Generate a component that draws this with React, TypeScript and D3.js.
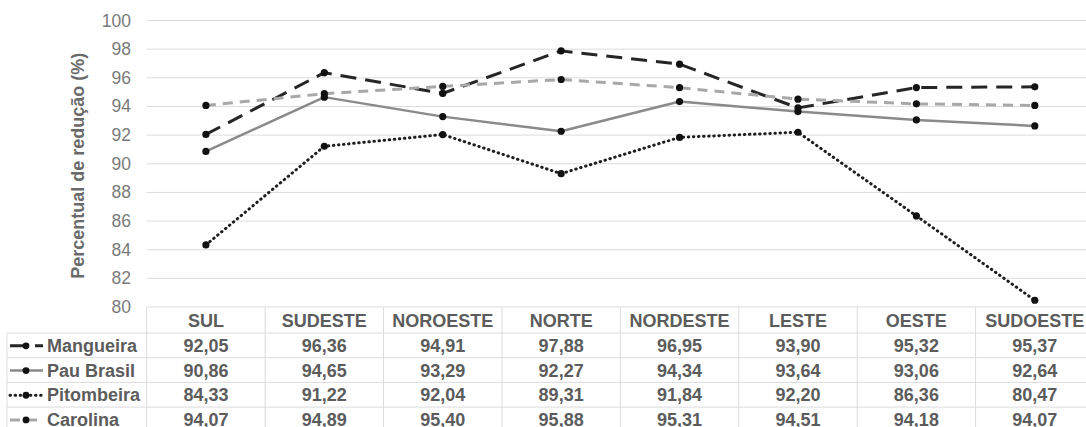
import React from "react";
import * as d3 from "d3";

// Regions (columns of the chart and of the data table)
const categories = ["SUL", "SUDESTE", "NOROESTE", "NORTE", "NORDESTE", "LESTE", "OESTE", "SUDOESTE"];

// Percentual de redução (%) per species
const mangueira = [92.05, 96.36, 94.91, 97.88, 96.95, 93.9, 95.32, 95.37];
const pauBrasil = [90.86, 94.65, 93.29, 92.27, 94.34, 93.64, 93.06, 92.64];
const pitombeira = [84.33, 91.22, 92.04, 89.31, 91.84, 92.2, 86.36, 80.47];
const carolina = [94.07, 94.89, 95.4, 95.88, 95.31, 94.51, 94.18, 94.07];

const seriesNames = ["Mangueira", "Pau Brasil", "Pitombeira", "Carolina"];
const yTicks = [80, 82, 84, 86, 88, 90, 92, 94, 96, 98, 100];

const W = 1086;
const H = 427;
const plotLeft = 146.7;
const plotRight = 1094;
const plotTop = 20.5;
const plotBottom = 307;
const tableLeft = 7;
const headerBottom = 333;
const rowH = 24.7;

type Style = { stroke: string; width: number; dash?: string; cap?: "round" | "butt" };
const styles: Style[] = [
  { stroke: "#262626", width: 3, dash: "16 9" },
  { stroke: "#8a8a8a", width: 2.5 },
  { stroke: "#1e1e1e", width: 3, dash: "0.5 4.6", cap: "round" },
  { stroke: "#a8a8a8", width: 3, dash: "10 7" },
];

const fmt = (v: number) => v.toFixed(2).replace(".", ",");
const textColor = "#5c5c5c";
const font = "'Liberation Sans', Arial, sans-serif";

export default function App() {
  const data = [mangueira, pauBrasil, pitombeira, carolina];
  const x = d3.scaleBand<string>().domain(categories).range([plotLeft, plotRight]).padding(0);
  const y = d3.scaleLinear().domain([80, 100]).range([plotBottom, plotTop]);
  const cx = (c: string) => (x(c) as number) + x.bandwidth() / 2;
  const line = d3
    .line<number>()
    .x((_, i) => cx(categories[i]))
    .y((d) => y(d));

  const rowTop = (i: number) => headerBottom + i * rowH;
  const tableBottom = rowTop(seriesNames.length) + 2;
  const gridColor = "#dcdcdc";

  return (
    <svg
      width={W}
      height={H}
      style={{ position: "absolute", left: 0, top: 0, display: "block", background: "#fff" }}
      fontFamily={font}
    >
      {/* gridlines */}
      {yTicks.map((t) => (
        <line key={t} x1={plotLeft} x2={plotRight} y1={y(t)} y2={y(t)} stroke={gridColor} strokeWidth={1} />
      ))}
      {/* tick labels */}
      {yTicks.map((t) => (
        <text
          key={"l" + t}
          x={131}
          y={y(t)}
          textAnchor="end"
          dominantBaseline="central"
          fontSize={17.5}
          fill="#7a7a7a"
        >
          {t}
        </text>
      ))}
      {/* axis title */}
      <text
        transform={`translate(78,${(plotTop + plotBottom) / 2 + 2}) rotate(-90)`}
        textAnchor="middle"
        dominantBaseline="central"
        fontSize={18}
        fontWeight="bold"
        fill="#6a6a6a"
      >
        Percentual de redução (%)
      </text>

      {/* series lines */}
      {data.map((vals, s) => (
        <path
          key={"p" + s}
          d={line(vals) || ""}
          fill="none"
          stroke={styles[s].stroke}
          strokeWidth={styles[s].width}
          strokeDasharray={styles[s].dash}
          strokeLinecap={styles[s].cap || "butt"}
          strokeLinejoin="round"
        />
      ))}
      {data.map((vals, s) =>
        vals.map((v, i) => (
          <circle key={`m${s}-${i}`} cx={cx(categories[i])} cy={y(v)} r={3.6} fill="#111" />
        ))
      )}

      {/* data table grid */}
      {seriesNames.map((_, i) => (
        <line
          key={"h" + i}
          x1={tableLeft}
          x2={plotRight}
          y1={rowTop(i)}
          y2={rowTop(i)}
          stroke={gridColor}
          strokeWidth={1}
        />
      ))}
      <line x1={tableLeft} x2={tableLeft} y1={headerBottom} y2={tableBottom} stroke={gridColor} />
      {categories.map((c) => (
        <line
          key={"v" + c}
          x1={x(c) as number}
          x2={x(c) as number}
          y1={plotBottom}
          y2={tableBottom}
          stroke={gridColor}
        />
      ))}

      {/* header */}
      {categories.map((c) => (
        <text
          key={"hd" + c}
          x={cx(c)}
          y={(plotBottom + headerBottom) / 2 + 1}
          textAnchor="middle"
          dominantBaseline="central"
          fontSize={18}
          fontWeight="bold"
          fill={textColor}
        >
          {c}
        </text>
      ))}

      {/* rows: legend key, name, values */}
      {seriesNames.map((name, s) => {
        const cy = rowTop(s) + rowH / 2 + 0.5;
        const st = styles[s];
        return (
          <g key={"r" + name}>
            <line
              x1={10}
              x2={43}
              y1={cy}
              y2={cy}
              stroke={st.stroke}
              strokeWidth={st.width}
              strokeDasharray={st.dash}
              strokeLinecap={st.cap || "butt"}
            />
            <circle cx={26} cy={cy} r={3.4} fill="#111" />
            <text
              x={47}
              y={cy}
              dominantBaseline="central"
              fontSize={18}
              fontWeight="bold"
              fill={textColor}
            >
              {name}
            </text>
            {data[s].map((v, i) => (
              <text
                key={`v${s}-${i}`}
                x={cx(categories[i])}
                y={cy}
                textAnchor="middle"
                dominantBaseline="central"
                fontSize={18}
                fontWeight="bold"
                fill={textColor}
              >
                {fmt(v)}
              </text>
            ))}
          </g>
        );
      })}
    </svg>
  );
}
